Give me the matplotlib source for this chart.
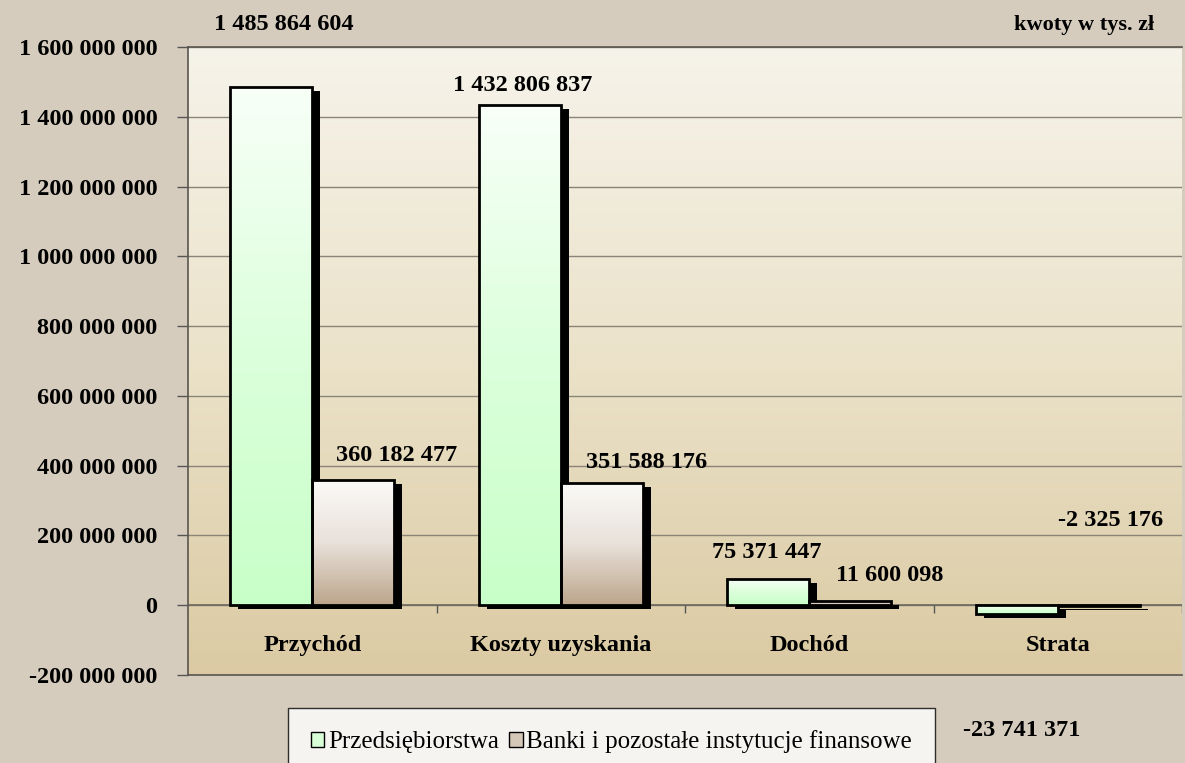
import matplotlib.pyplot as plt
import numpy as np
from matplotlib.colors import LinearSegmentedColormap
from matplotlib.patches import Rectangle
from matplotlib.transforms import offset_copy

categories = ['Przychód', 'Koszty uzyskania', 'Dochód', 'Strata']
przedsiebiorstwa = [1485864604, 1432806837, 75371447, -23741371]
banki = [360182477, 351588176, 11600098, -2325176]
series_names = ['Przedsiębiorstwa', 'Banki i pozostałe instytucje finansowe']
yticks = [-200000000, 0, 200000000, 400000000, 600000000, 800000000,
          1000000000, 1200000000, 1400000000, 1600000000]

# label offsets in pixels (dx, dy) relative to bar end, as in the original
offs_p = [(13, 62), (3, 20), (-1, 26), (5, -117)]
offs_b = [(43, 24), (45, 20), (39, 26), (12, 86)]

serif = 'Liberation Serif'
fs = 17.5
bg = '#d5ccbe'

fig = plt.figure(figsize=(11.85, 7.63), dpi=100, facecolor=bg)
ax = fig.add_axes([188/1185, 1-675/763, 994/1185, 628/763])
ax.patch.set_visible(False)

# plot area gradient
area_cmap = LinearSegmentedColormap.from_list('area', ['#f6f3ea', '#ebe2c9', '#dbcaa3'])
ax.imshow(np.linspace(0, 1, 256).reshape(-1, 1), cmap=area_cmap, aspect='auto',
          extent=[0, 1, 0, 1], transform=ax.transAxes, zorder=0)

green = LinearSegmentedColormap.from_list('g', ['#f8fff8', '#dcffdc', '#c8ffc8'])
brown = LinearSegmentedColormap.from_list('b', ['#fbfaf8', '#e9e1da', '#bca68c'])

x = np.arange(len(categories))
w = 0.33
shadow = offset_copy(ax.transData, fig=fig, x=8, y=-4, units='dots')

for vals, dx, cmap, offs in [(przedsiebiorstwa, -w/2, green, offs_p),
                              (banki, w/2, brown, offs_b)]:
    bars = ax.bar(x + dx, vals, w, facecolor='none', edgecolor='black',
                  linewidth=2, zorder=4)
    for b, v, (ox, oy) in zip(bars, vals, offs):
        bx, by = b.get_x(), b.get_y()
        bw, bh = b.get_width(), b.get_height()
        ax.add_patch(Rectangle((bx, by), bw, bh, facecolor='black',
                               edgecolor='none', transform=shadow, zorder=2))
        top, bot = max(by, by + bh), min(by, by + bh)
        im = ax.imshow(np.linspace(0, 1, 256).reshape(-1, 1), cmap=cmap,
                       aspect='auto', extent=[bx, bx + bw, bot, top], zorder=3)
        im.set_clip_path(b)
        ax.annotate(f'{v:,}'.replace(',', ' '), xy=(bx + bw/2, v),
                    xytext=(ox, oy), textcoords='offset pixels',
                    ha='center', va='center', fontsize=fs, fontweight='bold',
                    family=serif, annotation_clip=False, zorder=6)

ax.set_xlim(-0.5, 3.5)
ax.set_ylim(-200000000, 1600000000)
ax.set_yticks(yticks)
ax.set_yticklabels([f'{t:,}'.replace(',', ' ') for t in yticks],
                   fontsize=fs, fontweight='bold', family=serif)
ax.tick_params(axis='y', length=8, width=1, pad=14, color='#555555')
ax.set_xticks([])
ax.yaxis.grid(True, color='#8a8478', linewidth=1, zorder=1)
ax.set_axisbelow(True)
ax.axhline(0, color='#6e685e', linewidth=1.2, zorder=1.5)
ax.vlines([0.5, 1.5, 2.5, 3.5], -23000000, 0, color='#555555', linewidth=1, zorder=1.5)

for s in ['left', 'top', 'bottom']:
    ax.spines[s].set_color('#5a564e')
    ax.spines[s].set_linewidth(1.2)
ax.spines['right'].set_visible(False)

for i, c in enumerate(categories):
    ax.text(i, -115000000, c, ha='center', va='center', fontsize=fs,
            fontweight='bold', family=serif, zorder=6)

fig.text(1084/1185, 1-25/763, 'kwoty w tys. zł', ha='center', va='center',
         fontsize=16, fontweight='bold', family=serif)

handles = [Rectangle((0, 0), 1, 1, facecolor='#d8ffd8', edgecolor='black', linewidth=1),
           Rectangle((0, 0), 1, 1, facecolor='#d6c8b8', edgecolor='black', linewidth=1)]
leg = fig.legend(handles, series_names, loc='upper left',
                 bbox_to_anchor=(288/1185, 1-708/763), ncol=2, frameon=True,
                 fancybox=False, edgecolor='black', facecolor='white',
                 prop={'family': serif, 'size': 18}, handlelength=0.55,
                 handleheight=0.55, handletextpad=0.15, columnspacing=0.4,
                 borderpad=0.9, borderaxespad=0)
leg.get_frame().set_linewidth(1)

fig.savefig('out.png', dpi=100, facecolor=bg)
